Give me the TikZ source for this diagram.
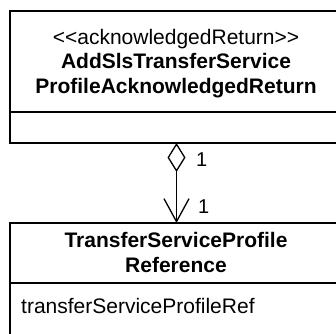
\documentclass[tikz,border=0pt]{standalone}
\usepackage{fontspec}
\setmainfont[Ligatures=NoCommon]{Liberation Sans}
\usetikzlibrary{arrows.meta}
\begin{document}
\begin{tikzpicture}[x=1pt,y=-1pt,
  boxline/.style={line width=1.3pt,black},
  txt/.style={font=\fontsize{21}{26}\selectfont, anchor=base, inner sep=0pt},
  btxt/.style={txt, font=\fontsize{21}{26}\selectfont\bfseries},
  lbl/.style={font=\fontsize{20}{22}\selectfont, anchor=base west, inner sep=0pt},
  assoc/.style={line width=0.8pt,
    {Diamond[open,length=29pt,width=18pt,line width=1.3pt]}-{Straight Barb[length=23pt,width=25pt,line width=1.3pt]}}]
\useasboundingbox (0,0) rectangle (336,333);
\clip (0,0) rectangle (336,333);
% upper class box
\draw[boxline] (350,11) -- (10,11) -- (10,143) -- (350,143);
\draw[boxline] (10,112) -- (350,112);
\node[txt] (st) at (176,44) {{<}{<}acknowledgedReturn{>}{>}};
\node[btxt] (n1) at (176,68) {AddSlsTransferService};
\node[btxt] (n2) at (176,93) {ProfileAcknowledgedReturn};
% lower class box
\draw[boxline] (350,223) -- (10,223) -- (10,350);
\draw[boxline] (10,283) -- (350,283);
\node[btxt] (m1) at (176,247) {TransferServiceProfile};
\node[btxt] (m2) at (176,272) {Reference};
\node[txt, anchor=base west] (at1) at (21,313) {transferServiceProfileRef};
% association
\coordinate (src) at (176.5,143);
\coordinate (dst) at (176.5,223);
\draw[assoc] (src) -- (dst);
\node[lbl] (l1) at (196,166) {1};
\node[lbl] (l2) at (198,213) {1};
\end{tikzpicture}
\end{document}
